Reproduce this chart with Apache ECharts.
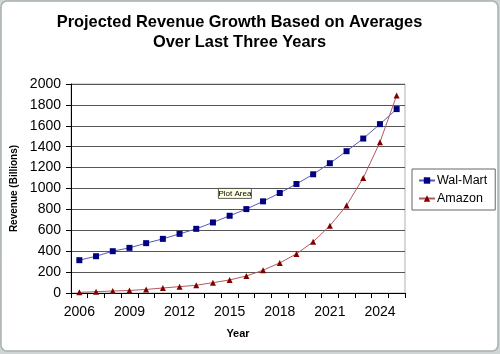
<!DOCTYPE html>
<html><head><meta charset="utf-8">
<script src="https://cdn.jsdelivr.net/npm/echarts@6/dist/echarts.min.js"></script>
<style>html,body{margin:0;padding:0;background:#cfd5d5;}#c{width:500px;height:354px;}</style>
</head><body><div id="c"></div>
<script>
const years = ['2006','2007','2008','2009','2010','2011','2012','2013','2014','2015','2016','2017','2018','2019','2020','2021','2022','2023','2024','2025'];
const walmart = [314,352,400,432,477,518,566,614,675,739,803,877,957,1043,1136,1242,1357,1478,1616,1760];
const amazon = [6,13,19,24,34,48,61,74,99,125,163,218,288,374,490,643,838,1101,1443,1891];
const yTicks = {min:0, max:2000, interval:200};
const titleText = 'Projected Revenue Growth Based on Averages\nOver Last Three Years';
const font = 'Liberation Sans, Arial, sans-serif';

const chart = echarts.init(document.getElementById('c'), null, {renderer:'canvas'});
chart.setOption({
  animation:false,
  backgroundColor:'transparent',
  graphic:[
    {type:'rect', z:-10, shape:{x:1,y:1,width:497,height:350,r:6}, style:{fill:'#ffffff', stroke:'#a9b0b0', lineWidth:1.5}},
    {type:'text', x:239.5, y:12, z:50, style:{text:titleText, font:'bold 16.4px '+font, fill:'#000', textAlign:'center', textVerticalAlign:'top', lineHeight:20}},
    {type:'group', left:218, top:188, z:100, children:[
      {type:'rect', shape:{x:0,y:0,width:33,height:10}, style:{fill:'#ffffe1', stroke:'#333', lineWidth:0.8}},
      {type:'text', x:16.5, y:5, style:{text:'Plot Area', font:'8px '+font, fill:'#000', textAlign:'center', textVerticalAlign:'middle'}}
    ]}
  ],
  grid:{left:71, right:95, top:84, bottom:61, show:true, borderColor:'#b0b0b0', borderWidth:1, backgroundColor:'#fff'},
  legend:{orient:'vertical', left:412, top:169, padding:[5,8,5,6], itemGap:5, itemWidth:16, itemHeight:8,
    borderColor:'#666', borderWidth:1, backgroundColor:'#fff',
    textStyle:{fontFamily:font, fontSize:12.5, color:'#000', padding:[0,0,0,-3]},
    data:['Wal-Mart','Amazon']},
  xAxis:{type:'category', data:years, boundaryGap:true,
    name:'Year', nameLocation:'middle', nameGap:35,
    nameTextStyle:{fontFamily:font, fontSize:11, fontWeight:'bold', color:'#000'},
    axisLine:{lineStyle:{color:'#000', width:1}},
    axisTick:{show:true, interval:0, length:5, lineStyle:{color:'#000'}},
    axisLabel:{interval:2, fontFamily:font, fontSize:14, color:'#000', margin:12},
    splitLine:{show:false}},
  yAxis:{type:'value', min:yTicks.min, max:yTicks.max, interval:yTicks.interval,
    name:'Revenue (Billions)', nameLocation:'middle', nameGap:43,
    nameTextStyle:{fontFamily:font, fontSize:10, fontWeight:'bold', color:'#000'},
    axisLine:{show:true, lineStyle:{color:'#000', width:1}},
    axisTick:{show:true, length:5, lineStyle:{color:'#000'}},
    axisLabel:{fontFamily:font, fontSize:14, color:'#000', margin:10, formatter:v=>String(v)},
    splitLine:{show:true, lineStyle:{color:'#555', width:1}}},
  series:[
    {name:'Wal-Mart', type:'line', data:walmart, symbol:'rect', symbolSize:6,
      lineStyle:{color:'#5a5ab0', width:1}, itemStyle:{color:'#000080'}},
    {name:'Amazon', type:'line', data:amazon, symbol:'triangle', symbolSize:6,
      lineStyle:{color:'#b05a5a', width:1}, itemStyle:{color:'#800000'}}
  ]
});
</script></body></html>
